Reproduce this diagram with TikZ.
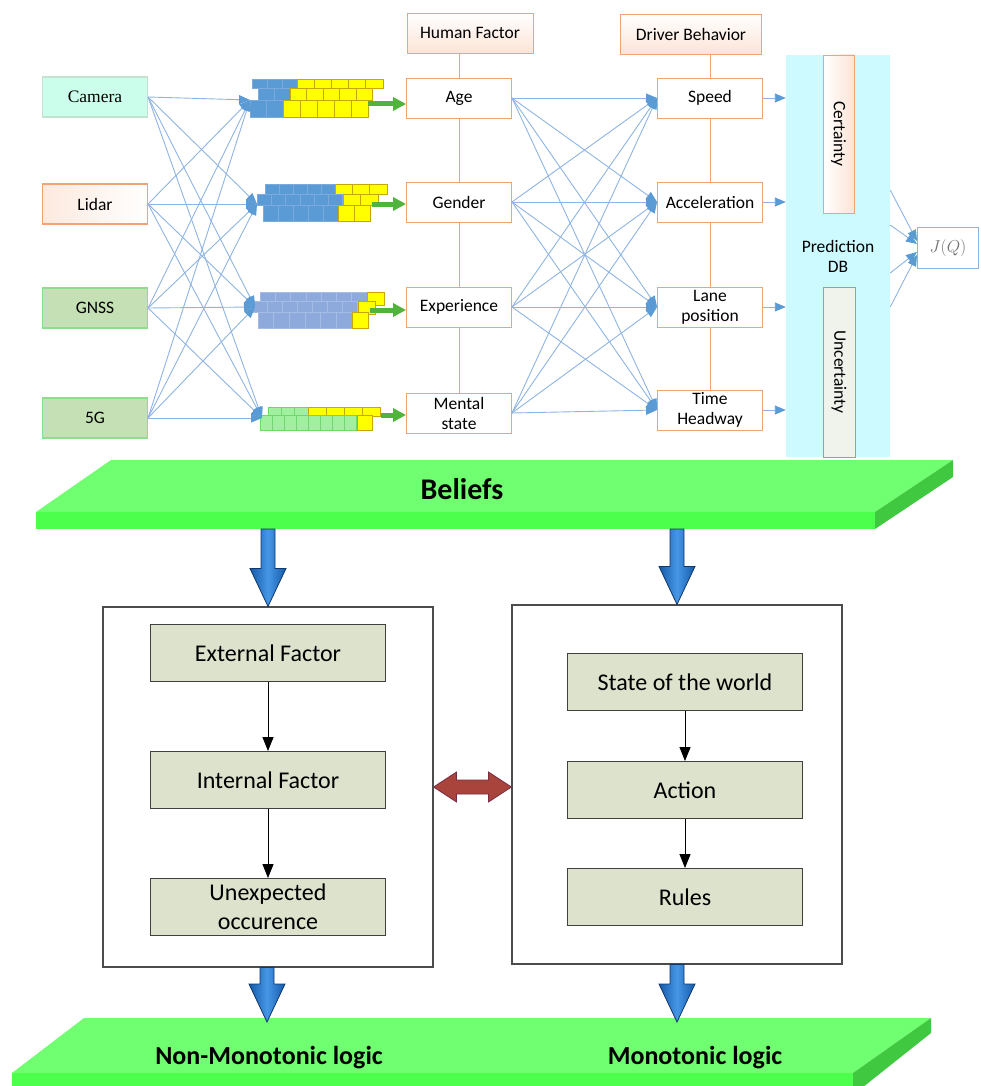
\documentclass[tikz,border=0pt]{standalone}
\usepackage{fontspec}
\setmainfont{Carlito}
\newfontfamily\camfont{Liberation Serif}
\usepackage{tikz}
\usetikzlibrary{positioning,calc,arrows.meta}

\definecolor{lineblue}{RGB}{141,180,226}
\definecolor{headblue}{RGB}{91,155,213}
\definecolor{boxorange}{RGB}{241,163,116}
\definecolor{paleorange}{RGB}{252,228,214}
\definecolor{camfill}{RGB}{204,255,235}
\definecolor{camline}{RGB}{196,226,208}
\definecolor{gnssfill}{RGB}{197,224,180}
\definecolor{gnssline}{RGB}{140,222,140}
\definecolor{bandcyan}{RGB}{204,250,255}
\definecolor{uncline}{RGB}{130,180,110}
\definecolor{uncfill}{RGB}{240,242,236}
\definecolor{factorfill}{RGB}{221,226,204}
\definecolor{brickblue}{RGB}{91,155,213}
\definecolor{brickblueline}{RGB}{125,170,220}
\definecolor{peri}{RGB}{142,169,219}
\definecolor{periline}{RGB}{165,188,230}
\definecolor{brickyel}{RGB}{255,255,0}
\definecolor{brickyelline}{RGB}{200,168,0}
\definecolor{ltgreen}{RGB}{160,240,160}
\definecolor{ltgreenline}{RGB}{110,215,110}
\definecolor{feedgreen}{RGB}{80,180,60}
\definecolor{slabtop}{RGB}{112,255,112}
\definecolor{slabfront}{RGB}{76,255,76}
\definecolor{slabside}{RGB}{64,200,64}
\definecolor{blockdark}{RGB}{22,90,170}
\definecolor{blocklight}{RGB}{70,150,230}
\definecolor{blockline}{RGB}{15,55,105}
\definecolor{dblred}{RGB}{168,68,60}
\definecolor{dblline}{RGB}{120,45,70}

\newcommand{\upfont}{\fontsize{17.5}{20}\selectfont}
\newcommand{\lowfont}{\fontsize{24}{29}\selectfont}
\newcommand{\belfont}{\fontsize{30}{32}\selectfont\bfseries}
\newcommand{\logicfont}{\fontsize{26}{28}\selectfont\bfseries}

% x, y, cells, cell width, height, fill, draw
\newcommand{\brickrow}[7]{%
  \foreach \k in {1,...,#3}
    \draw[fill=#6,draw=#7,line width=0.7pt] ({#1+(\k-1)*#4},#2) rectangle ++(#4,#5);}

% big blue arrow pointing down, from #1 to tip #2
\newcommand{\downblock}[2]{%
  \path[blockarrow] let \p1=(#1), \p2=(#2) in
    (\x2-7pt,\y1) -- (\x2-7pt,\y2+38pt) -- (\x2-18pt,\y2+38pt) -- (\x2,\y2)
    -- (\x2+18pt,\y2+38pt) -- (\x2+7pt,\y2+38pt) -- (\x2+7pt,\y1) -- cycle;}

% red double arrow between #1 and #2
\newcommand{\dblblock}[2]{%
  \path[dblarrow] let \p1=(#1), \p2=(#2) in
    (\x1,\y1) -- (\x1+23pt,\y1+15pt) -- (\x1+23pt,\y1+7pt) -- (\x2-23pt,\y1+7pt)
    -- (\x2-23pt,\y1+15pt) -- (\x2,\y1) -- (\x2-23pt,\y1-15pt) -- (\x2-23pt,\y1-7pt)
    -- (\x1+23pt,\y1-7pt) -- (\x1+23pt,\y1-15pt) -- cycle;}

\begin{document}
\begin{tikzpicture}[x=1pt,y=-1pt,on grid,
    box/.style={draw=boxorange,fill=white,line width=0.9pt,minimum width=105pt,
      minimum height=40pt,inner sep=0pt,font=\upfont,align=center},
    sensor/.style={box,line width=1.1pt},
    head/.style={box,top color=white,bottom color=paleorange},
    mesh/.style={draw=lineblue,line width=0.9pt,-{Triangle[length=11pt,width=9pt,color=headblue]}},
    link/.style={draw=boxorange,line width=1pt},
    feed/.style={draw=feedgreen,line width=5pt,-{Triangle[length=13pt,width=13pt]}},
    factor/.style={draw=black!75,fill=factorfill,line width=0.9pt,minimum width=235pt,
      minimum height=57pt,inner sep=0pt,font=\lowfont,align=center},
    bigbox/.style={draw=black!70,fill=white,line width=1.1pt,minimum width=330pt,minimum height=360pt},
    flow/.style={draw=black,line width=1pt,-{Triangle[length=14pt,width=11pt]}},
    blockarrow/.style={left color=blockdark,right color=blockdark,middle color=blocklight,
      draw=blockline,line width=0.8pt},
    dblarrow/.style={fill=dblred,draw=dblline,line width=0.8pt}]
\useasboundingbox (0,0) rectangle (981,1086);

% sensors
\node[sensor,fill=camfill,draw=camline] (cam) at (95,97) {\camfont Camera};
\node[sensor,left color=paleorange!80,right color=white] (lid) [below=107pt of cam] {Lidar};
\node[sensor,fill=gnssfill,draw=gnssline] (gnss) [below=104pt of lid] {GNSS};
\node[sensor,fill=gnssfill,draw=gnssline] (fiveg) [below=110pt of gnss] {5G};

% data bricks
\brickrow{252}{79}{3}{15}{9}{brickblue}{brickblueline}
\brickrow{297}{79}{5}{17.2}{9}{brickyel}{brickyelline}
\brickrow{258}{88}{2}{16}{12}{brickblue}{brickblueline}
\brickrow{290}{88}{5}{16.5}{12}{brickyel}{brickyelline}
\brickrow{250}{100}{2}{16.5}{17}{brickblue}{brickblueline}
\brickrow{283}{100}{5}{17}{17}{brickyel}{brickyelline}

\brickrow{265}{184}{5}{14}{10}{brickblue}{brickblueline}
\brickrow{335}{184}{3}{17.3}{10}{brickyel}{brickyelline}
\brickrow{257}{194}{6}{14.3}{11}{brickblue}{brickblueline}
\brickrow{343}{194}{2}{17.5}{11}{brickyel}{brickyelline}
\brickrow{263}{205}{5}{15}{16}{brickblue}{brickblueline}
\brickrow{338}{205}{2}{16}{16}{brickyel}{brickyelline}

\brickrow{260}{292}{7}{15.3}{9}{peri}{periline}
\brickrow{367}{292}{1}{17}{13}{brickyel}{brickyelline}
\brickrow{252}{301}{7}{15.1}{11}{peri}{periline}
\brickrow{358}{301}{1}{17}{13}{brickyel}{brickyelline}
\brickrow{258}{312}{6}{15.7}{16}{peri}{periline}
\brickrow{352}{312}{1}{16}{16}{brickyel}{brickyelline}

\brickrow{268}{407}{3}{13.3}{9}{ltgreen}{ltgreenline}
\brickrow{308}{407}{4}{18}{9}{brickyel}{brickyelline}
\brickrow{260}{415}{8}{12.1}{15}{ltgreen}{ltgreenline}
\brickrow{357}{415}{1}{15}{15}{brickyel}{brickyelline}

\coordinate (i1) at (250,100);
\coordinate (i2) at (257,204);
\coordinate (i3) at (255,307);
\coordinate (i4) at (262,418);
\coordinate (o1) at (368,104);
\coordinate (o2) at (372,204);
\coordinate (o3) at (370,310);
\coordinate (o4) at (381,415);

% human factor
\node[head] (hfhead) at (470,33) [minimum width=126pt] {Human Factor};
\node[box] (age) at (459,98) {Age};
\node[box] (gen) [below=104pt of age] {Gender};
\node[box] (exp) [below=105pt of gen] {Experience};
\node[box] (men) [below=106pt of exp] {Mental\\state};

% driver behavior
\node[head] (dbhead) at (691,34) [minimum width=141pt] {Driver Behavior};
\node[box] (spd) at (710,98) {Speed};
\node[box] (acc) [below=104pt of spd] {Acceleration};
\node[box] (lane) [below=105pt of acc] {Lane\\position};
\node[box] (thw) [below=103pt of lane] {Time\\Headway};

\draw[link] (age.north) -- (age.north |- hfhead.south);
\draw[link] (age) -- (gen) -- (exp) -- (men);
\draw[link] (spd.north) -- (spd.north |- dbhead.south);
\draw[link] (spd) -- (acc) -- (lane) -- (thw);

\foreach \s in {cam,lid,gnss,fiveg}
  \foreach \t in {i1,i2,i3,i4}
    \draw[mesh] (\s.east) -- (\t);

\foreach \s/\o in {age/o1,gen/o2,exp/o3,men/o4}
  \draw[feed] (\o) -- (\o -| \s.west);

\foreach \s in {age,gen,exp,men}
  \foreach \t in {spd,acc,lane,thw}
    \draw[mesh] (\s.east) -- (\t.west);

% prediction DB
\node[fill=bandcyan,minimum width=104pt,minimum height=402pt,inner sep=0pt,
  font=\upfont,align=center] (band) at (838,256) {Prediction\\DB};
\node[draw=boxorange,line width=0.9pt,left color=white,right color=paleorange,rotate=-90,
  minimum width=158pt,minimum height=31pt,inner sep=0pt,font=\upfont] (cert) at (838.5,134) {Certainty};
\node[draw=uncline,line width=0.9pt,fill=uncfill,rotate=-90,
  minimum width=170pt,minimum height=32pt,inner sep=0pt,font=\upfont] (unc) at (839,372) {Uncertainty};
\node[draw=lineblue,line width=1pt,fill=white,minimum width=61pt,minimum height=41pt,
  text=black!55,font=\upfont] (jq) at (948,248) {$J(Q)$};

\foreach \s in {spd,acc,lane,thw}
  \draw[mesh] (\s.east) -- (\s.east -| band.west);

\foreach \y/\e in {190/-7,225/-4,273/4,307/7}
  \draw[mesh] (band.east |- 0,\y) -- ($(jq.west)+(0,\e)$);

% beliefs slab
\fill[slabtop] (111,460) -- (953,460) -- (875,512) -- (36,512) -- cycle;
\fill[slabfront] (36,512) rectangle (875,529);
\fill[slabside] (875,512) -- (953,460) -- (953,477) -- (875,529) -- cycle;
\node[font=\belfont] (beliefs) at (462,489) {Beliefs};
\coordinate (bel1) at (267,529);
\coordinate (bel2) at (677,529);

% reasoning boxes
\node[bigbox] (nmbox) at (268,787) {};
\node[bigbox,minimum height=359pt] (mbox) at (677,784.5) {};

\node[factor] (ext) at (268,653) {External Factor};
\node[factor] (int) [below=127pt of ext] {Internal Factor};
\node[factor] (unx) [below=127pt of int] {Unexpected\\occurence};
\node[factor] (sow) at (685,682) {State of the world};
\node[factor] (act) [below=108pt of sow] {Action};
\node[factor] (rul) [below=107pt of act] {Rules};

\draw[flow] (ext) -- (int);
\draw[flow] (int) -- (unx);
\draw[flow] (sow) -- (act);
\draw[flow] (act) -- (rul);

\dblblock{nmbox.east}{mbox.west}

% logic slab
\fill[slabtop] (84,1018) -- (931,1018) -- (853,1073) -- (12,1073) -- cycle;
\fill[slabfront] (12,1073) rectangle (853,1095);
\fill[slabside] (853,1073) -- (931,1018) -- (931,1033) -- (853,1095) -- cycle;
\node[font=\logicfont] (nonmono) at (269,1058) {Non-Monotonic logic};
\node[font=\logicfont] (mono) at (695,1058) {Monotonic logic};
\coordinate (nm1) at (267,1022);
\coordinate (mo1) at (677,1022);

\downblock{bel1}{nmbox.north}
\downblock{bel2}{mbox.north}
\downblock{nmbox.south}{nm1}
\downblock{mbox.south}{mo1}
\end{tikzpicture}
\end{document}
